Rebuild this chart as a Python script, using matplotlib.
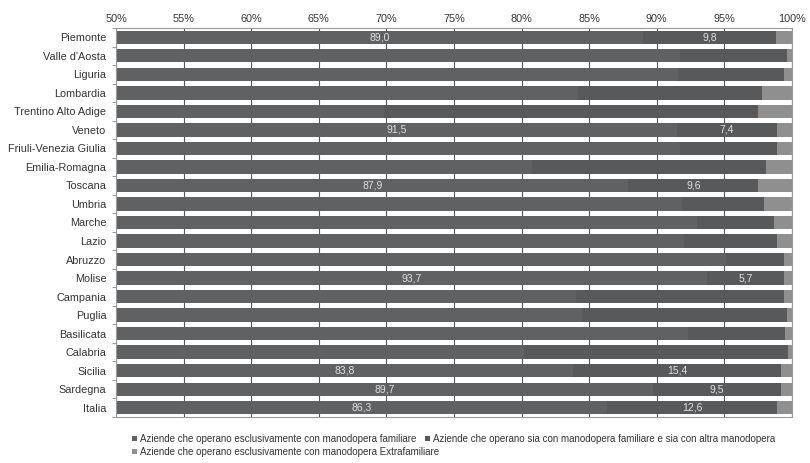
import numpy as np
import matplotlib.pyplot as plt

plt.rcParams['font.family'] = ['Liberation Sans', 'DejaVu Sans']

regioni = ['Piemonte', "Valle d'Aosta", 'Liguria', 'Lombardia', 'Trentino Alto Adige',
           'Veneto', 'Friuli-Venezia Giulia', 'Emilia-Romagna', 'Toscana', 'Umbria',
           'Marche', 'Lazio', 'Abruzzo', 'Molise', 'Campania', 'Puglia', 'Basilicata',
           'Calabria', 'Sicilia', 'Sardegna', 'Italia']

# quote percentuali
solo_familiare = [89.0, 91.7, 91.6, 84.2, 69.8, 91.5, 91.7, 80.8, 87.9, 91.9,
                  93.0, 92.0, 95.1, 93.7, 84.0, 84.5, 92.3, 80.2, 83.8, 89.7, 86.3]
entrambe = [9.8, 7.9, 7.8, 13.6, 27.7, 7.4, 7.2, 17.3, 9.6, 6.0,
            5.7, 6.9, 4.3, 5.7, 15.4, 15.1, 7.2, 19.5, 15.4, 9.5, 12.6]
solo_extra = [100 - a - b for a, b in zip(solo_familiare, entrambe)]

# righe con etichette di valore
etichettate = ['Piemonte', 'Veneto', 'Toscana', 'Molise', 'Sicilia', 'Sardegna', 'Italia']

legenda = ['Aziende che operano esclusivamente con manodopera familiare',
           'Aziende che operano sia con manodopera familiare e sia con altra manodopera',
           'Aziende che operano esclusivamente con manodopera Extrafamiliare']
colori = ['#606163', '#58595b', '#8f8f8f']

fig = plt.figure(figsize=(8.1, 4.63), dpi=100)
ax = fig.add_axes([116 / 810, 1 - 417 / 463, 676 / 810, 389 / 463])

y = np.arange(len(regioni))
h = 0.72
b1 = ax.barh(y, solo_familiare, height=h, color=colori[0], label=legenda[0], zorder=2)
b2 = ax.barh(y, entrambe, left=solo_familiare, height=h, color=colori[1], label=legenda[1], zorder=2)
left3 = [a + b for a, b in zip(solo_familiare, entrambe)]
b3 = ax.barh(y, solo_extra, left=left3, height=h, color=colori[2], label=legenda[2], zorder=2)

for i, r in enumerate(regioni):
    if r in etichettate:
        ax.text((50 + solo_familiare[i]) / 2, i, f'{solo_familiare[i]:.1f}'.replace('.', ','),
                ha='center', va='center', color='#e0e0e0', fontsize=7.5, zorder=3)
        ax.text(solo_familiare[i] + entrambe[i] / 2, i, f'{entrambe[i]:.1f}'.replace('.', ','),
                ha='center', va='center', color='#e0e0e0', fontsize=7.5, zorder=3)

ax.set_xlim(50, 100)
ax.set_ylim(len(regioni) - 0.5, -0.5)
ticks = np.arange(50, 101, 5)
ax.set_xticks(ticks)
ax.set_xticklabels([f'{t}%' for t in ticks], fontsize=7.8, color='#333333')
ax.xaxis.tick_top()
ax.tick_params(axis='x', length=0, pad=3)
ax.set_yticks(y)
ax.set_yticklabels(regioni, fontsize=7.8, color='#333333')
ax.set_yticks(np.arange(-0.5, len(regioni)), minor=True)
ax.tick_params(axis='y', which='major', length=0, pad=7)
ax.tick_params(axis='y', which='minor', length=3, color='#888888')
ax.grid(axis='x', color='#555555', linewidth=0.8, zorder=0)
for s in ['left', 'right', 'top', 'bottom']:
    ax.spines[s].set_color('#999999')
    ax.spines[s].set_linewidth(0.8)

# legenda su due righe: prime due voci affiancate, terza sotto
leg_kw = dict(frameon=False, fontsize=7.0, handlelength=0.5, handleheight=0.5,
              handletextpad=0.3, columnspacing=0.9, borderaxespad=0, labelcolor='#333333')
leg1 = fig.legend([b1, b2], legenda[:2], ncol=2, loc='upper left',
                  bbox_to_anchor=(128 / 810, 1 - 430 / 463), **leg_kw)
fig.legend([b3], legenda[2:], loc='upper left',
           bbox_to_anchor=(128 / 810, 1 - 443 / 463), **leg_kw)

fig.savefig('out.png', dpi=100, facecolor='white')
